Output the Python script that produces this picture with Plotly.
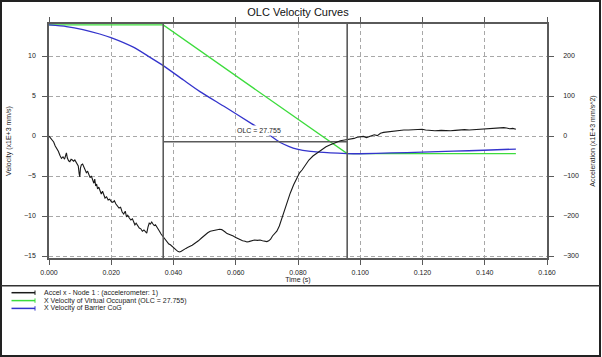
import plotly.graph_objects as go

# ---------------- data ----------------
title_text = "OLC Velocity Curves"
x_title = "Time (s)"
y_title = "Velocity (x1E+3 mm/s)"
y2_title = "Acceleration (x1E+3 mm/s^2)"

series_names = [
    "Accel x - Node 1 : (accelerometer: 1)",
    "X Velocity of Virtual Occupant (OLC = 27.755)",
    "X Velocity of Barrier CoG",
]
olc_label = "OLC = 27.755"

x_ticks = [0.0, 0.02, 0.04, 0.06, 0.08, 0.10, 0.12, 0.14, 0.16]
x_tick_labels = ["0.000", "0.020", "0.040", "0.060", "0.080", "0.100", "0.120", "0.140", "0.160"]
y_ticks = [-15, -10, -5, 0, 5, 10]
y2_ticks = [-300, -200, -100, 0, 100, 200]

# acceleration (right axis)
acc_t = [0.0000, 0.0005, 0.0010, 0.0015, 0.0020, 0.0025, 0.0030, 0.0035, 0.0040, 0.0045,
         0.0050, 0.0053, 0.0056, 0.0059, 0.0063, 0.0067, 0.0071, 0.0075, 0.0079, 0.0083,
         0.0087, 0.0091, 0.0094, 0.0097, 0.0099, 0.0101, 0.0104, 0.0108, 0.0112, 0.0116,
         0.0120, 0.0124, 0.0128, 0.0132, 0.0136, 0.0140, 0.0144, 0.0147, 0.0150, 0.0153,
         0.0156, 0.0160, 0.0164, 0.0168, 0.0172, 0.0176, 0.0180, 0.0185, 0.0190, 0.0195,
         0.0200, 0.0205, 0.0210, 0.0215, 0.0220, 0.0225, 0.0230, 0.0235, 0.0240, 0.0245,
         0.0249, 0.0253, 0.0258, 0.0263, 0.0268, 0.0272, 0.0276, 0.0280, 0.0285, 0.0290,
         0.0295, 0.0300, 0.0305, 0.0310, 0.0314, 0.0318, 0.0322, 0.0326, 0.0330, 0.0334,
         0.0338, 0.0342, 0.0346, 0.0350, 0.0355, 0.0360, 0.0365, 0.0370, 0.0375, 0.0380,
         0.0385, 0.0390, 0.0395, 0.0400, 0.0405, 0.0410, 0.0415, 0.0420, 0.0425, 0.0430,
         0.0435, 0.0440, 0.0445, 0.0450, 0.0455, 0.0460, 0.0470, 0.0480, 0.0490, 0.0500,
         0.0510, 0.0518, 0.0525, 0.0532, 0.0540, 0.0548, 0.0555, 0.0560, 0.0566, 0.0572,
         0.0580, 0.0586, 0.0592, 0.0600, 0.0608, 0.0615, 0.0622, 0.0630, 0.0636, 0.0642,
         0.0650, 0.0660, 0.0670, 0.0678, 0.0686, 0.0694, 0.0700, 0.0706, 0.0712, 0.0718,
         0.0724, 0.0732, 0.0740, 0.0748, 0.0756, 0.0765, 0.0775, 0.0786, 0.0797, 0.0805,
         0.0813, 0.0824, 0.0835, 0.0848, 0.0861, 0.0875, 0.0890, 0.0904, 0.0920, 0.0936,
         0.0950, 0.0962, 0.0968, 0.0980, 0.0990, 0.1001, 0.1010, 0.1020, 0.1033, 0.1045,
         0.1055, 0.1065, 0.1075, 0.1085, 0.1097, 0.1110, 0.1125, 0.1140, 0.1155, 0.1170,
         0.1185, 0.1199, 0.1210, 0.1225, 0.1240, 0.1260, 0.1275, 0.1290, 0.1305, 0.1320,
         0.1335, 0.1350, 0.1365, 0.1380, 0.1397, 0.1410, 0.1425, 0.1440, 0.1455, 0.1461,
         0.1470, 0.1480, 0.1490, 0.1500]
acc_a = [0, -5, -12, -15, -25, -30, -38, -48, -56, -52,
         -58, -50, -42, -55, -62, -64, -58, -60, -63, -60,
         -66, -70, -75, -95, -102, -80, -72, -70, -78, -85,
         -92, -88, -98, -104, -100, -110, -118, -108, -125, -120,
         -132, -128, -140, -145, -138, -150, -155, -152, -160, -158,
         -164, -166, -162, -170, -175, -180, -178, -190, -195, -188,
         -202, -198, -205, -210, -207, -215, -222, -218, -225, -230,
         -232, -238, -235, -240, -243, -228, -218, -220, -215, -220,
         -224, -222, -228, -232, -238, -245, -250, -258, -262, -265,
         -270, -272, -276, -280, -282, -286, -289, -290, -288, -285,
         -283, -281, -279, -276, -275, -273, -268, -262, -255, -248,
         -242, -238, -237, -235, -234, -233, -234, -236, -240, -244,
         -246, -248, -250, -254, -257, -260, -262, -263, -265, -264,
         -262, -260, -261, -260, -262, -263, -264, -262, -258, -250,
         -245, -238, -225, -205, -185, -165, -143, -122, -102, -92,
         -85, -72, -60, -50, -43, -34, -27, -22, -17, -12,
         -10, -9, -8, -6, -3, -2, -1, -4, 0, 3,
         1, 7, 9, 10, 12, 13, 14, 15, 15, 16,
         16, 17, 15, 14, 13, 14, 13, 13, 14, 15,
         16, 15, 16, 16, 17, 18, 19, 20, 21, 21,
         20, 18, 19, 17]

# virtual occupant velocity (left axis)
occ_t = [0.0, 0.0367, 0.0958, 0.1500]
occ_v = [13.88, 13.88, -2.2, -2.2]

# barrier CoG velocity (left axis)
cog_t = [0.0, 0.0056, 0.0109, 0.0163, 0.0199, 0.0271, 0.0324, 0.0367, 0.0432, 0.0485,
         0.0566, 0.0652, 0.0690, 0.0713, 0.0743, 0.0770, 0.0797, 0.0840, 0.0904, 0.0958,
         0.1000, 0.1100, 0.1199, 0.1300, 0.1397, 0.1500]
cog_v = [13.88, 13.68, 13.3, 12.75, 12.3, 11.1, 9.85, 8.8, 7.0, 5.55,
         3.62, 1.52, 0.6, 0.0, -0.82, -1.3, -1.65, -1.93, -2.12, -2.2,
         -2.22, -2.12, -2.02, -1.9, -1.78, -1.63]

# OLC construction lines
olc_t_start = 0.0367
olc_t_end = 0.0958
olc_ref_v = -0.71
olc_label_t = 0.0676
olc_label_v = 0.72

y_range = [-15.25, 14.0]
y2_scale = 20.0
x_range = [0.0, 0.16]

# ---------------- styling / layout ----------------
W, H = 602, 357
L, R, T, B = 49, 55, 24, 99
PW, PH = W - L - R, H - T - B

def px_x(p):
    return (p - L) / PW

def px_y(p):
    return (T + PH - p) / PH

COL_ACC = "#1a1a1a"
COL_OCC = "#3ddc3d"
COL_COG = "#3434cc"
COL_AX = "#5a5a5a"
COL_GRID = "#a8a8a8"
COL_TXT = "#222222"
FONT = "Liberation Sans, Arial, sans-serif"

fig = go.Figure()
fig.add_trace(go.Scatter(x=occ_t, y=occ_v, mode="lines", name=series_names[1],
                         line=dict(color=COL_OCC, width=1.3), showlegend=False))
fig.add_trace(go.Scatter(x=cog_t, y=cog_v, mode="lines", name=series_names[2],
                         line=dict(color=COL_COG, width=1.3, shape="spline", smoothing=0.6),
                         showlegend=False))
fig.add_trace(go.Scatter(x=[olc_t_start, olc_t_end], y=[olc_ref_v, olc_ref_v], mode="lines",
                         line=dict(color=COL_AX, width=1.6), showlegend=False, hoverinfo="skip"))
fig.add_trace(go.Scatter(x=acc_t, y=acc_a, mode="lines", name=series_names[0], yaxis="y2",
                         line=dict(color=COL_ACC, width=1.1), showlegend=False))

shapes = []
for tv in (olc_t_start, olc_t_end):
    shapes.append(dict(type="line", xref="x", yref="paper", x0=tv, x1=tv, y0=0, y1=1,
                       line=dict(color=COL_AX, width=1.6)))
# outer frame and legend separator
shapes.append(dict(type="rect", xref="paper", yref="paper", x0=px_x(1), x1=px_x(600),
                   y0=px_y(356), y1=px_y(1), line=dict(color="#222222", width=2)))
shapes.append(dict(type="line", xref="paper", yref="paper", x0=px_x(1), x1=px_x(600),
                   y0=px_y(285.7), y1=px_y(285.7), line=dict(color="#333333", width=1.5)))

annotations = [dict(x=olc_label_t, y=olc_label_v, xref="x", yref="y", text=olc_label,
                    showarrow=False, font=dict(size=7, color=COL_TXT, family=FONT),
                    bgcolor="white", borderpad=1)]

# custom legend
legend_rows = [292.7, 300.6, 308.4]
legend_cols = [COL_ACC, COL_OCC, COL_COG]
for name, row, col in zip(series_names, legend_rows, legend_cols):
    shapes.append(dict(type="line", xref="paper", yref="paper", x0=px_x(11.5), x1=px_x(35),
                       y0=px_y(row), y1=px_y(row), line=dict(color=col, width=1.5)))
    shapes.append(dict(type="line", xref="paper", yref="paper", x0=px_x(35), x1=px_x(35),
                       y0=px_y(row - 2.2), y1=px_y(row + 2.2), line=dict(color=col, width=1)))
    annotations.append(dict(x=px_x(41.5), y=px_y(row), xref="paper", yref="paper", text=name,
                            xanchor="left", yanchor="middle", showarrow=False,
                            font=dict(size=7, color=COL_TXT, family=FONT)))

axis_common = dict(showline=True, linecolor=COL_AX, linewidth=1.5, ticks="outside",
                   tickcolor=COL_AX, tickwidth=1.2, ticklen=5, zeroline=False,
                   tickfont=dict(size=7, color=COL_TXT, family=FONT))

fig.update_layout(
    width=W, height=H,
    margin=dict(l=L, r=R, t=T, b=B, autoexpand=False),
    paper_bgcolor="white", plot_bgcolor="white",
    font=dict(family=FONT, color=COL_TXT),
    title=dict(text=title_text, x=0.5, xref="paper", xanchor="center",
               y=1 - 11.7 / H, yref="container", yanchor="middle",
               font=dict(size=11, color="#111111", family=FONT)),
    showlegend=False,
    xaxis=dict(range=x_range, tickvals=x_ticks, ticktext=x_tick_labels,
               mirror="ticks", showgrid=True, gridcolor=COL_GRID, gridwidth=1,
               griddash="4px,3px", ticklabelstandoff=2,
               title=dict(text=x_title, font=dict(size=7, color=COL_TXT, family=FONT), standoff=2),
               **axis_common),
    yaxis=dict(range=y_range, tickvals=y_ticks, showgrid=True, gridcolor=COL_GRID,
               gridwidth=1, griddash="4px,3px", ticklabelstandoff=5,
               title=dict(text=y_title, font=dict(size=7, color=COL_TXT, family=FONT), standoff=12),
               **axis_common),
    yaxis2=dict(range=[y_range[0] * y2_scale, y_range[1] * y2_scale], tickvals=y2_ticks,
                overlaying="y", side="right", showgrid=False, ticklabelstandoff=8,
                title=dict(text=y2_title, font=dict(size=7, color=COL_TXT, family=FONT), standoff=12),
                **axis_common),
    shapes=shapes,
    annotations=annotations,
)

fig.write_html("out.html", config={"displayModeBar": False},
               post_script="document.body.style.margin='0px';document.body.style.overflow='hidden';")
